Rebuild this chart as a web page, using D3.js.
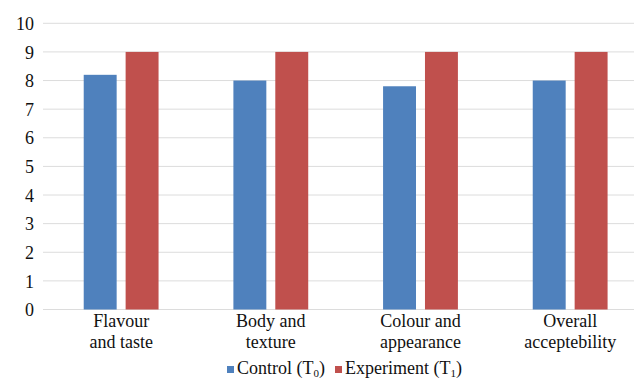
<!DOCTYPE html>
<html>
<head>
<meta charset="utf-8">
<script src="https://cdn.jsdelivr.net/npm/d3@7"></script>
</head>
<body style="margin:0;background:#fff">
<svg id="chart" width="634" height="379" style="display:block"></svg>
<script>
// Sensory scores of the two treatments
const categories = [["Flavour", "and taste"], ["Body and", "texture"], ["Colour and", "appearance"], ["Overall", "acceptebility"]];
const seriesNames = ["Control", "Experiment"];
const seriesSubs = ["0", "1"];
const controlValues = [8.2, 8.0, 7.8, 8.0];
const experimentValues = [9, 9, 9, 9];
const yTicks = [0, 1, 2, 3, 4, 5, 6, 7, 8, 9, 10];

const colors = ["#4f81bd", "#c0504d"];
const serif = "Liberation Serif";
const svg = d3.select("#chart");

const keys = categories.map(c => c.join(" "));
const x = d3.scaleBand().domain(keys).range([46.3, 645]).paddingInner(0.5).paddingOuter(0.25);
const xInner = d3.scaleBand().domain(seriesNames).range([0, x.bandwidth()]).paddingInner(0.214);
const y = d3.scaleLinear().domain([0, 10]).range([309.5, 23.3]);

// horizontal gridlines
svg.append("g").selectAll("line").data(yTicks).join("line")
  .attr("x1", 43).attr("x2", 634)
  .attr("y1", d => y(d)).attr("y2", d => y(d))
  .attr("stroke", "#dcdcdc").attr("stroke-width", 1);

// y tick labels
const yAxis = d3.axisLeft(y).tickValues(yTicks).tickSize(0).tickPadding(0);
const gy = svg.append("g").attr("transform", "translate(34,0)").call(yAxis);
gy.select(".domain").remove();
gy.attr("font-family", serif).attr("font-size", 18);
gy.selectAll("text")
  .style("font-family", serif).style("font-size", "18px")
  .attr("fill", "#111").attr("dy", "0.34em");

// bars
const data = keys.map((k, i) => ({ key: k, values: [controlValues[i], experimentValues[i]] }));
const groups = svg.append("g").selectAll("g").data(data).join("g")
  .attr("transform", d => `translate(${x(d.key)},0)`);
groups.selectAll("rect").data(d => d.values.map((v, j) => ({ name: seriesNames[j], v, j }))).join("rect")
  .attr("x", d => xInner(d.name))
  .attr("width", xInner.bandwidth())
  .attr("y", d => y(d.v))
  .attr("height", d => y(0) - y(d.v))
  .attr("fill", d => colors[d.j]);

// category labels, two lines each
const labels = svg.append("g").selectAll("text").data(categories).join("text")
  .attr("text-anchor", "middle")
  .attr("fill", "#111")
  .style("font-family", serif)
  .style("font-size", "18px")
  .attr("transform", (d, i) => `translate(${x(keys[i]) + x.bandwidth() / 2},327)`);
labels.selectAll("tspan").data(d => d).join("tspan")
  .attr("x", 0).attr("dy", (d, i) => i === 0 ? 0 : 21)
  .text(d => d);

// legend
const legend = svg.append("g").attr("transform", "translate(227,374)");
const legendX = [0, 108];
seriesNames.forEach((name, i) => {
  const g = legend.append("g").attr("transform", `translate(${legendX[i]},0)`);
  g.append("rect").attr("x", 0).attr("y", -8).attr("width", 7).attr("height", 7).attr("fill", colors[i]);
  const t = g.append("text").attr("x", 10).attr("fill", "#111")
    .style("font-family", serif).style("font-size", "18px");
  t.append("tspan").text(name + " (T");
  t.append("tspan").style("font-size", "11px").attr("dy", 3).text(seriesSubs[i]);
  t.append("tspan").attr("dy", -3).text(")");
});
</script>
</body>
</html>
